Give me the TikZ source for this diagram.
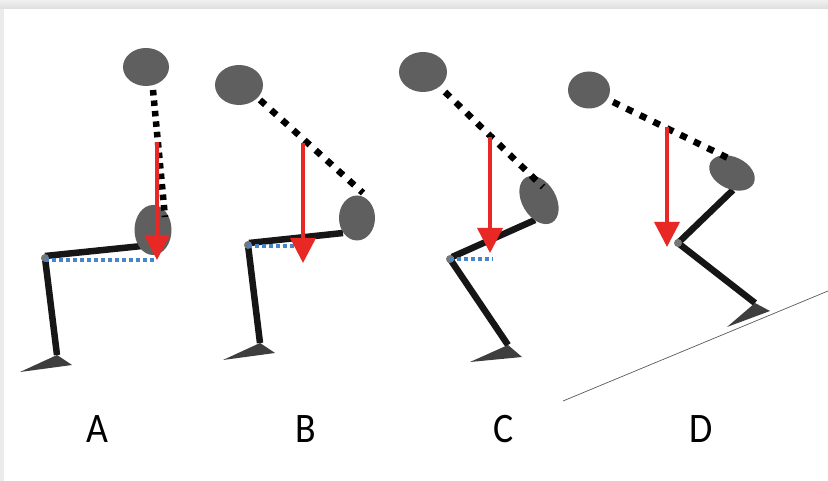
\documentclass[tikz,border=0pt]{standalone}
\usepackage{fontspec}
\newfontfamily\labelfont{Carlito}
\usetikzlibrary{arrows.meta,shapes.geometric}
\definecolor{segray}{RGB}{95,95,95}
\definecolor{footgray}{RGB}{62,62,62}
\definecolor{bone}{RGB}{22,22,22}
\definecolor{gravred}{RGB}{232,40,36}
\definecolor{levelblue}{RGB}{72,132,200}
\pgfdeclarelayer{bg}
\pgfdeclarelayer{bones}
\pgfsetlayers{bg,bones,main}

\begin{document}
\begin{tikzpicture}[x=1pt,y=-1pt,
  segment/.style={ellipse,fill=segray,inner sep=0pt,draw=none},
  joint/.style={circle,fill=segray!85,inner sep=0pt,minimum size=8pt},
  bonelink/.style={draw=bone,line width=6.5pt},
  trunk/.style={draw=black,line width=6.5pt,dash pattern=on 7pt off 8pt},
  uprighttrunk/.style={trunk,dash pattern=on 5.5pt off 5pt},
  gravity/.style={draw=gravred,line width=3.5pt,-{Triangle[width=25pt,length=25pt]}},
  level/.style={draw=levelblue,line width=3.2pt,dash pattern=on 3.5pt off 3.5pt},
  foot/.style={fill=footgray},
  slope/.style={draw=gray!70!black,line width=0.7pt},
  tag/.style={font=\labelfont\fontsize{42}{42}\selectfont,xscale=0.9,anchor=base,inner sep=0pt}]

\useasboundingbox (0,0) rectangle (828,481);

% page and its frame
\begin{pgfonlayer}{bg}
  \fill[white] (0,0) rectangle (828,481);
  \shade[top color=gray!12,bottom color=gray!26] (0,0) rectangle (828,9);
  \fill[gray!16] (0,9) rectangle (4,481);
\end{pgfonlayer}

% ---------------- posture A ----------------
\node[segment,minimum width=46pt,minimum height=38pt] (headA) at (146,67) {};
\node[segment,minimum width=37pt,minimum height=50pt] (hipA) at (153,230) {};
\node[joint] (kneeA) at (45,258) {};
\coordinate (thighA) at (142,246);
\coordinate (ankleA) at (57,355);
\coordinate (neckA) at (153,90);
\coordinate (sacrumA) at (165,217);
\coordinate (comA) at (157,142);
\coordinate (baseA) at (157,260);
\coordinate (toeA) at (20,372);
\coordinate (heelA) at (72,365);
\begin{pgfonlayer}{bones}
  \draw[bonelink] (thighA) -- (45,256);
  \draw[bonelink] (kneeA.center) -- (ankleA);
  \fill[foot] (toeA) -- (ankleA) -- (heelA) -- cycle;
\end{pgfonlayer}
\draw[uprighttrunk] (neckA) -- (sacrumA);
\draw[level] (kneeA.center) ++(0,2) -- (baseA);

% ---------------- posture B ----------------
\node[segment,minimum width=48pt,minimum height=40pt] (headB) at (239,85) {};
\node[segment,minimum width=36pt,minimum height=45pt] (hipB) at (357,218) {};
\node[joint] (kneeB) at (248,245) {};
\coordinate (thighB) at (343,233);
\coordinate (ankleB) at (260,343);
\coordinate (neckB) at (260,100);
\coordinate (sacrumB) at (363,193);
\coordinate (comB) at (303,143);
\coordinate (baseB) at (303,263);
\coordinate (levelB) at (303,246);
\coordinate (toeB) at (223,360);
\coordinate (heelB) at (275,353);
\begin{pgfonlayer}{bones}
  \draw[bonelink] (thighB) -- (249,243);
  \draw[bonelink] (kneeB.center) -- (ankleB);
  \fill[foot] (toeB) -- (ankleB) -- (heelB) -- cycle;
\end{pgfonlayer}
\draw[trunk] (neckB) -- (sacrumB);
\draw[level] (248,246) -- (levelB);

% ---------------- posture C ----------------
\node[segment,minimum width=48pt,minimum height=40pt] (headC) at (423,72) {};
\node[segment,minimum width=34pt,minimum height=52pt,rotate=30] (hipC) at (539,200) {};
\node[joint] (kneeC) at (450,259) {};
\coordinate (thighC) at (535,220);
\coordinate (ankleC) at (508,345);
\coordinate (neckC) at (445,92);
\coordinate (sacrumC) at (543,187);
\coordinate (comC) at (490,137);
\coordinate (baseC) at (490,253);
\coordinate (levelC) at (493,259);
\coordinate (toeC) at (470,362);
\coordinate (heelC) at (522,357);
\begin{pgfonlayer}{bones}
  \draw[bonelink] (thighC) -- (452,257);
  \draw[bonelink] (kneeC.center) -- (ankleC);
  \fill[foot] (toeC) -- (ankleC) -- (heelC) -- cycle;
\end{pgfonlayer}
\draw[trunk] (neckC) -- (sacrumC);
\draw[level] (kneeC.center) -- (levelC);

% ---------------- posture D ----------------
\node[segment,minimum width=42pt,minimum height=37pt] (headD) at (589,90) {};
\node[segment,minimum width=48pt,minimum height=32pt,rotate=-25] (hipD) at (732,173) {};
\node[joint] (kneeD) at (678,243) {};
\coordinate (thighD) at (733,190);
\coordinate (ankleD) at (755,303);
\coordinate (neckD) at (613,102);
\coordinate (sacrumD) at (732,160);
\coordinate (comD) at (667,127);
\coordinate (baseD) at (667,247);
\coordinate (toeD) at (727,327);
\coordinate (heelD) at (770,311);
\coordinate (slopeLow) at (563,401);
\coordinate (slopeHigh) at (828,291);
\begin{pgfonlayer}{bones}
  \draw[slope] (slopeLow) -- (slopeHigh);
  \draw[bonelink] (thighD) -- (kneeD.center);
  \draw[bonelink] (kneeD.center) -- (ankleD);
  \fill[foot] (toeD) -- (ankleD) -- (heelD) -- cycle;
\end{pgfonlayer}
\draw[trunk] (neckD) -- (sacrumD);

% line of gravity through each centre of mass
\draw[gravity] (comA) -- (baseA);
\draw[gravity] (comB) -- (baseB);
\draw[gravity] (comC) -- (baseC);
\draw[gravity] (comD) -- (baseD);

% posture labels
\node[tag] (tagA) at (97.5,442) {A};
\node[tag] (tagB) at (306,442) {B};
\node[tag] (tagC) at (504,442) {C};
\node[tag] (tagD) at (701,442) {D};
\end{tikzpicture}
\end{document}
